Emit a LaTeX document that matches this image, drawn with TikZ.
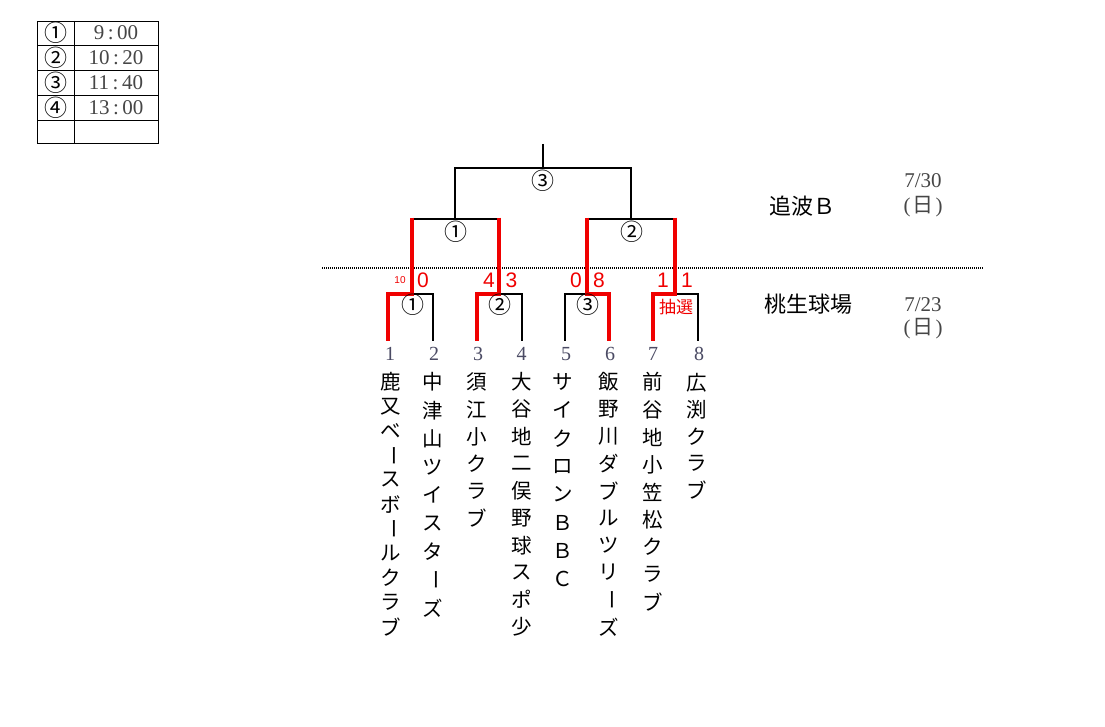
\documentclass[tikz,border=0pt]{standalone}
\usepackage{fontspec}
\setmainfont{Liberation Serif}
\newfontfamily\cjk{Noto Sans CJK JP}
\newfontfamily\arial{Liberation Sans}
\definecolor{numgray}{RGB}{75,75,100}
\definecolor{dategray}{RGB}{70,70,70}
\definecolor{wred}{RGB}{240,0,0}
\newcommand\vb{\rotatebox[origin=c]{-90}{ー}}
\newcommand\teamcol[5]{\foreach \c [count=\i from 0] in {#5}{\node[team] (#1-\i) at (#2,{#3+\i*#4}) {\c};}}
\begin{document}
\begin{tikzpicture}[x=1pt,y=-1pt,
  blk/.style={line width=2.7pt,draw=black},
  rd/.style={line width=3.4pt,draw=wred},
  dotline/.style={line width=2.6pt,draw=black,dash pattern=on 1pt off 1pt},
  tline/.style={line width=0.9pt,draw=black},
  circ/.style={font=\cjk\fontsize{23}{23}\selectfont,inner sep=0pt},
  tcirc/.style={font=\cjk\fontsize{23}{23}\selectfont,inner sep=0pt},
  ttime/.style={font=\fontsize{21}{21}\selectfont,text=dategray,inner sep=0pt},
  score/.style={font=\arial\fontsize{21}{21}\selectfont,text=wred,inner sep=0pt},
  smallscore/.style={font=\arial\fontsize{10}{10}\selectfont,text=wred,inner sep=0pt},
  lot/.style={font=\cjk\fontsize{17}{17}\selectfont,text=wred,inner sep=0pt},
  num/.style={font=\fontsize{20}{20}\selectfont,text=numgray,inner sep=0pt},
  team/.style={font=\cjk\fontsize{20.5}{20.5}\selectfont,inner sep=0pt},
  venue/.style={font=\cjk\fontsize{22}{22}\selectfont,inner sep=0pt},
  date/.style={font=\fontsize{21}{21}\selectfont,text=dategray,inner sep=0pt},
]
\useasboundingbox (0,0) rectangle (1105,727);
\fill[white] (0,0) rectangle (1105,727);

% ---- time table ----
\draw[tline] (37,21) rectangle (158,143);
\foreach \yy in {45,70,95,120} \draw[tline] (37,\yy) -- (158,\yy);
\draw[tline] (74,21) -- (74,143);
\node[tcirc] (tc1) at (55.5,33) {①};
\node[tcirc] (tc2) at (55.5,57.5) {②};
\node[tcirc] (tc3) at (55.5,82.5) {③};
\node[tcirc] (tc4) at (55.5,107.5) {④};
\node[ttime] (tt1) at (116,33) {9\hspace{3.5pt}:\hspace{3.5pt}00};
\node[ttime] (tt2) at (116,57.5) {10\hspace{3.5pt}:\hspace{3.5pt}20};
\node[ttime] (tt3) at (116,82.5) {11\hspace{3.5pt}:\hspace{3.5pt}40};
\node[ttime] (tt4) at (116,107.5) {13\hspace{3.5pt}:\hspace{3.5pt}00};

% ---- bracket coordinates ----
\coordinate (F) at (543,144);
\coordinate (J3) at (543,168);
\coordinate (S1) at (455,219);
\coordinate (S2) at (631,219);
\coordinate (Q1) at (412,219);
\coordinate (Q2) at (499,219);
\coordinate (Q3) at (587,219);
\coordinate (Q4) at (675,219);
\coordinate (M1) at (412,294);
\coordinate (M2) at (499,294);
\coordinate (M3) at (587,294);
\coordinate (M4) at (675,294);
\coordinate (P1) at (388,341);
\coordinate (P2) at (433,341);
\coordinate (P3) at (477,341);
\coordinate (P4) at (522,341);
\coordinate (P5) at (565,341);
\coordinate (P6) at (609,341);
\coordinate (P7) at (653,341);
\coordinate (P8) at (698,341);
\coordinate (DL) at (322,268);
\coordinate (DR) at (983,268);

% dotted separator
\draw[dotline] (DL) -- (DR);

% black lines
\draw[blk] (F) -- (J3);
\draw[blk] (S1) |- (J3) -| (S2);
\draw[blk] (Q1) -- (Q2);
\draw[blk] (Q3) -- (Q4);
\draw[blk] (M1) -| (P2);
\draw[blk] (M2) -| (P4);
\draw[blk] (M3) -| (P5);
\draw[blk] (M4) -| (P8);
% red (winner) lines
\draw[rd,shorten <=-1.3pt] (Q1) -- (M1) -| (P1);
\draw[rd,shorten <=-1.3pt] (Q2) -- (M2) -| (P3);
\draw[rd,shorten <=-1.3pt] (Q3) -- (M3) -| (P6);
\draw[rd,shorten <=-1.3pt] (Q4) -- (M4) -| (P7);

% game numbers
\node[circ] (g3) at (543,181) {③};
\node[circ] (g1) at (456,232) {①};
\node[circ] (g2) at (632,232) {②};
\node[circ] (h1) at (413,305) {①};
\node[circ] (h2) at (500,305) {②};
\node[circ] (h3) at (588,305) {③};

% scores
\node[smallscore] (s1a) at (400,280.5) {10};
\node[score] (s1b) at (423,280.5) {0};
\node[score] (s2a) at (489,280.5) {4};
\node[score] (s2b) at (511.5,280.5) {3};
\node[score] (s3a) at (576,280.5) {0};
\node[score] (s3b) at (599,280.5) {8};
\node[score] (s4a) at (663,280.5) {1};
\node[score] (s4b) at (687,280.5) {1};
\node[lot] (lot) at (676,307) {抽選};

% team numbers
\node[num] (n1) at (390,354) {1};
\node[num] (n2) at (434,354) {2};
\node[num] (n3) at (478,354) {3};
\node[num] (n4) at (521.5,354) {4};
\node[num] (n5) at (566,354) {5};
\node[num] (n6) at (610,354) {6};
\node[num] (n7) at (653,354) {7};
\node[num] (n8) at (699,354) {8};

% team names (vertical)
\teamcol{a}{391}{382}{24.5}{鹿,又,ベ,\vb,ス,ボ,\vb,ル,ク,ラ,ブ}
\teamcol{b}{433}{382}{28.3}{中,津,山,ツ,イ,ス,タ,\vb,ズ}
\teamcol{c}{477}{382}{27.3}{須,江,小,ク,ラ,ブ}
\teamcol{d}{522}{382}{27.2}{大,谷,地,二,俣,野,球,ス,ポ,少}
\teamcol{e}{563}{382}{28.1}{サ,イ,ク,ロ,ン,Ｂ,Ｂ,Ｃ}
\teamcol{f}{609}{382}{27.2}{飯,野,川,ダ,ブ,ル,ツ,リ,\vb,ズ}
\teamcol{g}{653}{382}{27.5}{前,谷,地,小,笠,松,ク,ラ,ブ}
\teamcol{h}{697}{383}{26.7}{広,渕,ク,ラ,ブ}

% venues and dates
\node[venue] (v1) at (802,206) {追波Ｂ};
\node[venue] (v2) at (808,304) {桃生球場};
\node[date] (d1) at (923,181) {7/30};
\node[date] (w1) at (923,207) {(\hspace{2pt}{\cjk 日}\hspace{2pt})};
\node[date] (d2) at (923,304.5) {7/23};
\node[date] (w2) at (923,329) {(\hspace{2pt}{\cjk 日}\hspace{2pt})};
\end{tikzpicture}
\end{document}
